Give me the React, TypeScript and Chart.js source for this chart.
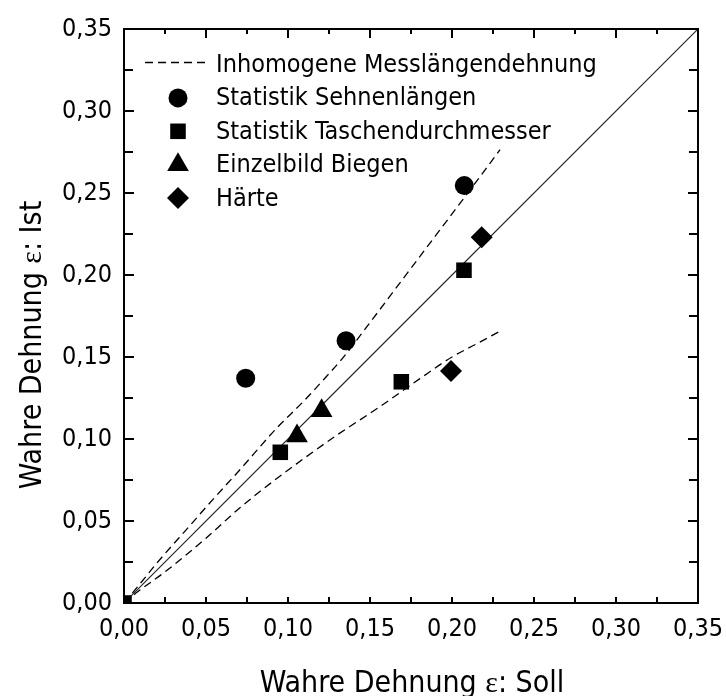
import React, { useEffect, useRef } from "react";
import { Chart, registerables } from "chart.js";
import { drawPoint } from "chart.js/helpers";

Chart.register(...registerables);

const FONT = '"DejaVu Sans Condensed", "DejaVu Sans", sans-serif';
const SERIF = '"Liberation Serif", "DejaVu Serif", serif';

// ---- data ----
const tickLabels = ["0,00", "0,05", "0,10", "0,15", "0,20", "0,25", "0,30", "0,35"];
const legendLabels = [
  "Inhomogene Messlängendehnung",
  "Statistik Sehnenlängen",
  "Statistik Taschendurchmesser",
  "Einzelbild Biegen",
  "Härte",
];
const xTitle = "Wahre Dehnung ε: Soll";
const yTitle = "Wahre Dehnung ε: Ist";

const sehnenX = [0.0742, 0.1354, 0.2075];
const sehnenY = [0.137, 0.1599, 0.2545];

const taschenX = [0.0, 0.0953, 0.1691, 0.2073];
const taschenY = [0.0, 0.0919, 0.1349, 0.2029];

const biegenX = [0.1055, 0.1205];
const biegenY = [0.1018, 0.1173];

const haerteX = [0.1994, 0.2181];
const haerteY = [0.1415, 0.223];

const upperX = [0, 0.01, 0.02, 0.04, 0.055, 0.07, 0.093, 0.11, 0.1215, 0.1337, 0.15, 0.17, 0.19, 0.21, 0.2293];
const upperY = [0, 0.012, 0.0243, 0.047, 0.064, 0.0805, 0.1065, 0.1235, 0.136, 0.1498, 0.171, 0.1975, 0.224, 0.2505, 0.2764];

const lowerX = [0, 0.0083, 0.025, 0.05, 0.07, 0.09, 0.105, 0.13, 0.155, 0.18, 0.2, 0.215, 0.2293];
const lowerY = [0, 0.0068, 0.019, 0.0395, 0.0575, 0.0735, 0.0847, 0.1025, 0.119, 0.1365, 0.15, 0.158, 0.1658];

const diagX = [0, 0.35];
const diagY = [0, 0.35];

const minorStep = 0.025;
const axisMax = 0.35;

const toPts = (xs: number[], ys: number[]) => xs.map((x, i) => ({ x, y: ys[i] }));

const markerStyles: { style: string; radius: number }[] = [
  { style: "circle", radius: 9.5 },
  { style: "rect", radius: 11 },
  { style: "triangle", radius: 12.5 },
  { style: "rectRot", radius: 11 },
];

const DASH = [8, 5];

// split a title so that the Greek epsilon can be drawn in a serif face
const titleParts = (t: string) => {
  const i = t.indexOf("ε");
  return [
    { text: t.slice(0, i), font: `30px ${FONT}` },
    { text: "ε", font: `30px ${SERIF}` },
    { text: t.slice(i + 1), font: `30px ${FONT}` },
  ];
};

const drawParts = (ctx: CanvasRenderingContext2D, parts: { text: string; font: string }[], cx: number, by: number) => {
  const widths = parts.map((p) => {
    ctx.font = p.font;
    return ctx.measureText(p.text).width;
  });
  const total = widths.reduce((a, b) => a + b, 0);
  let x = cx - total / 2;
  parts.forEach((p, i) => {
    ctx.font = p.font;
    ctx.fillText(p.text, x, by);
    x += widths[i];
  });
};

export default function App() {
  const ref = useRef<HTMLCanvasElement>(null);

  useEffect(() => {
    const canvas = ref.current;
    if (!canvas) return;

    const framePlugin = {
      id: "frame",
      afterDraw(chart: any) {
        const ctx = chart.ctx;
        const { left, right, top, bottom } = chart.chartArea;
        const xs = chart.scales.x;
        const ys = chart.scales.y;
        ctx.save();
        ctx.strokeStyle = "#000";
        ctx.lineWidth = 2;
        ctx.setLineDash([]);
        const n = Math.round(axisMax / minorStep);
        ctx.beginPath();
        for (let i = 1; i < n; i++) {
          const v = i * minorStep;
          const major = i % 2 === 0;
          const px = Math.round(xs.getPixelForValue(v));
          const py = Math.round(ys.getPixelForValue(v));
          const lb = 6;
          const lt = major ? 9 : 5;
          const ls = major ? 10 : 9;
          ctx.moveTo(px, bottom);
          ctx.lineTo(px, bottom - lb);
          ctx.moveTo(px, top);
          ctx.lineTo(px, top + lt);
          ctx.moveTo(left, py);
          ctx.lineTo(left + ls, py);
          ctx.moveTo(right, py);
          ctx.lineTo(right - ls, py);
        }
        ctx.stroke();
        ctx.strokeRect(left, top, right - left, bottom - top);
        ctx.restore();
      },
    };

    const titlePlugin = {
      id: "axisTitles",
      afterDraw(chart: any) {
        const ctx = chart.ctx;
        const { left, right, top, bottom } = chart.chartArea;
        ctx.save();
        ctx.fillStyle = "#000";
        ctx.textBaseline = "alphabetic";
        ctx.textAlign = "left";
        drawParts(ctx, titleParts(xTitle), (left + right) / 2 + 1, bottom + 89);
        ctx.translate(left - 83, (top + bottom) / 2 + 29);
        ctx.rotate(-Math.PI / 2);
        drawParts(ctx, titleParts(yTitle), 0, 0);
        ctx.restore();
      },
    };

    const legendPlugin = {
      id: "customLegend",
      afterDraw(chart: any) {
        const ctx = chart.ctx;
        const { left, top } = chart.chartArea;
        ctx.save();
        ctx.font = `25px ${FONT}`;
        ctx.fillStyle = "#000";
        ctx.strokeStyle = "#000";
        ctx.textBaseline = "middle";
        ctx.textAlign = "left";
        legendLabels.forEach((lab, i) => {
          const y = top + 35.5 + i * 33.4;
          if (i === 0) {
            ctx.setLineDash(DASH);
            ctx.lineWidth = 1.3;
            ctx.beginPath();
            ctx.moveTo(left + 21, y - 2);
            ctx.lineTo(left + 81, y - 2);
            ctx.stroke();
            ctx.setLineDash([]);
          } else {
            const m = markerStyles[i - 1];
            ctx.fillStyle = "#000";
            drawPoint(
              ctx,
              { pointStyle: m.style as any, radius: m.radius, rotation: 0, borderWidth: 0 },
              left + 54,
              y
            );
          }
          ctx.fillStyle = "#000";
          ctx.fillText(lab, left + 92, y + 1);
        });
        ctx.restore();
      },
    };

    const markerDataset = (label: string, xs: number[], ys: number[], idx: number) => ({
      type: "scatter" as const,
      label,
      data: toPts(xs, ys),
      pointStyle: markerStyles[idx].style,
      pointRadius: markerStyles[idx].radius,
      pointHoverRadius: markerStyles[idx].radius,
      pointBackgroundColor: "#000",
      pointBorderColor: "#000",
      pointBorderWidth: 0,
      showLine: false,
      order: 0,
    });

    const lineDataset = (label: string, xs: number[], ys: number[], dashed: boolean, color: string, width: number) => ({
      type: "scatter" as const,
      label,
      data: toPts(xs, ys),
      showLine: true,
      borderColor: color,
      borderWidth: width,
      borderDash: dashed ? DASH : [],
      pointRadius: 0,
      pointHoverRadius: 0,
      fill: false,
      cubicInterpolationMode: "monotone" as const,
      order: 1,
    });

    const fmt = (v: number) => {
      const idx = Math.round(v / 0.05);
      return tickLabels[idx] ?? "";
    };

    const chart = new Chart(canvas, {
      type: "scatter",
      data: {
        datasets: [
          markerDataset(legendLabels[1], sehnenX, sehnenY, 0),
          markerDataset(legendLabels[2], taschenX, taschenY, 1),
          markerDataset(legendLabels[3], biegenX, biegenY, 2),
          markerDataset(legendLabels[4], haerteX, haerteY, 3),
          lineDataset(legendLabels[0], upperX, upperY, true, "#000", 1.3),
          lineDataset(legendLabels[0], lowerX, lowerY, true, "#000", 1.3),
          lineDataset("diagonal", diagX, diagY, false, "#222", 1.1),
        ] as any,
      },
      options: {
        responsive: false,
        animation: false,
        events: [],
        layout: { padding: { left: 0, right: 28, top: 29, bottom: 0 } },
        plugins: {
          legend: { display: false },
          tooltip: { enabled: false },
        },
        scales: {
          x: {
            type: "linear",
            position: "bottom",
            min: 0,
            max: axisMax,
            grid: { display: false, drawTicks: false, tickLength: 0 },
            border: { display: false },
            ticks: {
              stepSize: 0.05,
              color: "#000",
              font: { family: FONT, size: 25 },
              padding: 11,
              maxRotation: 0,
              autoSkip: false,
              callback: (v: any) => fmt(Number(v)),
            },
            title: { display: false, text: xTitle },
            afterFit: (s: any) => {
              s.height = 93;
              s.paddingLeft = 0;
              s.paddingRight = 0;
            },
          },
          y: {
            type: "linear",
            position: "left",
            min: 0,
            max: axisMax,
            grid: { display: false, drawTicks: false, tickLength: 0 },
            border: { display: false },
            ticks: {
              stepSize: 0.05,
              color: "#000",
              font: { family: FONT, size: 25 },
              padding: 12,
              autoSkip: false,
              callback: (v: any) => fmt(Number(v)),
            },
            title: { display: false, text: yTitle },
            afterFit: (s: any) => {
              s.width = 124;
              s.paddingTop = 0;
              s.paddingBottom = 0;
            },
          },
        },
      },
      plugins: [framePlugin, titlePlugin, legendPlugin],
    });

    return () => chart.destroy();
  }, []);

  return (
    <div
      style={{
        position: "fixed",
        left: 0,
        top: 0,
        width: 726,
        height: 696,
        background: "#fff",
      }}
    >
      <canvas ref={ref} width={726} height={696} style={{ display: "block" }} />
    </div>
  );
}
